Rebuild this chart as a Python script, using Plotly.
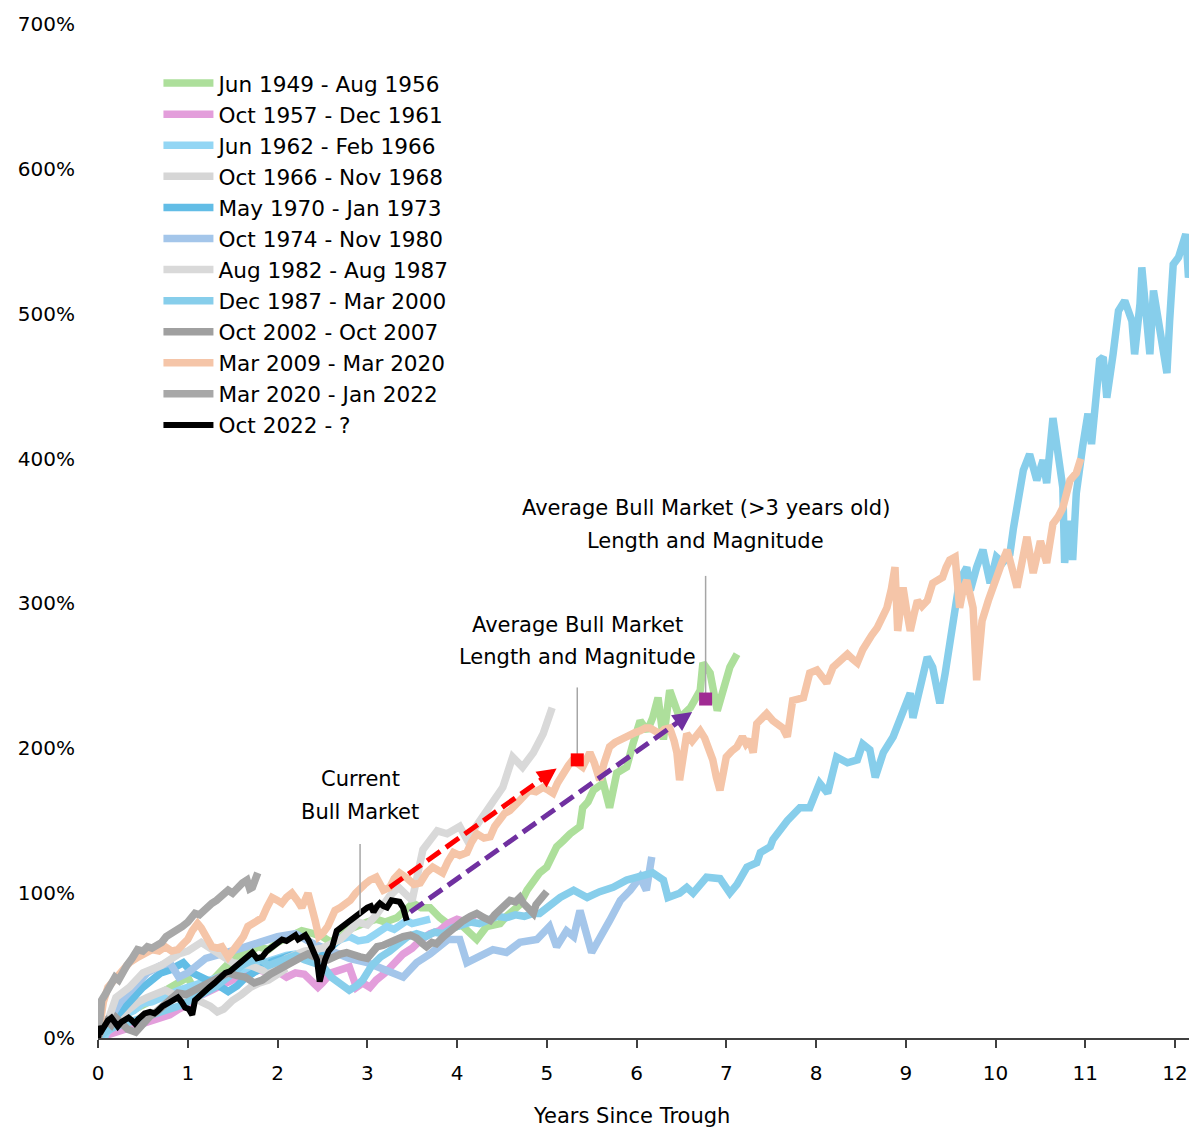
import plotly.graph_objects as go

# ---------------- data (years since trough, % gain) ----------------
names = ["Jun 1949 - Aug 1956", "Oct 1957 - Dec 1961", "Jun 1962 - Feb 1966",
         "Oct 1966 - Nov 1968", "May 1970 - Jan 1973", "Oct 1974 - Nov 1980",
         "Aug 1982 - Aug 1987", "Dec 1987 - Mar 2000", "Oct 2002 - Oct 2007",
         "Mar 2009 - Mar 2020", "Mar 2020 - Jan 2022", "Oct 2022 - ?"]

bull_1949 = [[0,0],[0.08,5],[0.15,9],[0.25,14],[0.35,18],[0.5,22],[0.6,26],[0.7,31],[0.8,35],[0.9,38],
             [1.0,42],[1.05,36],[1.1,30],[1.2,35],[1.3,42],[1.4,48],[1.53,56],[1.65,58],[1.78,63],[1.9,61],
             [2.0,66],[2.15,70],[2.27,74],[2.4,72],[2.5,70],[2.6,66],[2.7,72],[2.8,75],[2.9,78],[3.0,80],
             [3.1,82],[3.2,80],[3.33,83],[3.42,88],[3.51,93],[3.6,90],[3.7,90],[3.81,83],[3.96,76],[4.05,78],
             [4.11,74],[4.22,68],[4.33,77],[4.48,79],[4.55,84],[4.62,88],[4.7,92],[4.78,102],[4.85,108],[4.92,114],
             [5.0,118],[5.07,128],[5.11,132],[5.18,136],[5.26,141],[5.37,146],[5.4,159],[5.46,163],[5.52,171],[5.63,176],
             [5.7,159],[5.78,183],[5.89,187],[5.96,203],[6.04,219],[6.12,212],[6.18,221],[6.24,235],[6.3,206],[6.37,240],
             [6.48,221],[6.6,228],[6.71,240],[6.74,259],[6.82,252],[6.9,226],[6.96,238],[7.04,256],[7.12,265]]

bull_1957 = [[0,0],[0.1,2],[0.2,3],[0.3,5],[0.4,7],[0.5,10],[0.6,11],[0.7,13],[0.8,16],[0.9,20],[1.0,23],
             [1.1,28],[1.2,31],[1.3,35],[1.4,37],[1.5,40],[1.6,43],[1.7,45],[1.8,47],[1.9,45],[2.0,46],[2.1,42],
             [2.2,45],[2.3,44],[2.4,38],[2.45,35],[2.5,38],[2.6,45],[2.7,47],[2.8,49],[2.88,35],[2.95,38],[3.03,35],
             [3.1,40],[3.2,45],[3.3,52],[3.4,58],[3.5,62],[3.6,68],[3.7,72],[3.8,74],[3.9,79],[4.0,82],[4.1,80],[4.2,85]]

bull_1962 = [[0,0],[0.05,-2],[0.1,4],[0.2,10],[0.3,16],[0.4,19],[0.5,24],[0.6,25],[0.7,28],[0.8,30],[0.9,33],
             [1.0,35],[1.1,37],[1.2,40],[1.3,42],[1.4,44],[1.5,46],[1.6,47],[1.7,50],[1.8,52],[1.9,54],[2.0,55],
             [2.1,57],[2.2,58],[2.3,56],[2.4,60],[2.5,62],[2.6,64],[2.7,68],[2.8,70],[2.9,67],[3.0,68],[3.1,72],
             [3.22,77],[3.3,75],[3.44,81],[3.5,79],[3.6,80],[3.7,82]]

bull_1966 = [[0,0],[0.08,4],[0.15,8],[0.25,14],[0.35,20],[0.45,25],[0.55,28],[0.65,31],[0.75,33],[0.85,30],
             [0.95,28],[1.05,30],[1.15,25],[1.25,22],[1.33,18],[1.4,20],[1.5,26],[1.6,30],[1.7,35],[1.8,38],
             [1.9,40],[2.0,44],[2.1,48]]

bull_1970 = [[0,0],[0.05,3],[0.1,8],[0.2,15],[0.3,22],[0.4,28],[0.5,35],[0.6,40],[0.7,45],[0.8,47],[0.9,50],
             [0.95,52],[1.05,45],[1.15,42],[1.25,40],[1.35,36],[1.45,32],[1.55,36],[1.65,42],[1.75,46],[1.85,50],
             [1.95,53],[2.05,55],[2.15,57],[2.25,56],[2.35,58],[2.45,54],[2.55,60],[2.65,66],[2.72,70]]

bull_1974 = [[0,0],[0.1,10],[0.25,25],[0.4,35],[0.55,45],[0.7,50],[0.8,52],[0.9,42],[1.0,45],[1.2,55],[1.4,58],
             [1.6,62],[1.8,66],[2.0,70],[2.2,72],[2.4,65],[2.6,60],[2.8,55],[3.0,52],[3.22,47],[3.4,42],[3.55,52],
             [3.7,58],[3.9,68],[4.03,68],[4.11,52],[4.25,57],[4.4,61],[4.55,59],[4.7,66],[4.89,68],[5.03,77],
             [5.11,63],[5.22,74],[5.3,70],[5.37,88],[5.5,59],[5.59,68],[5.7,81],[5.82,95],[5.93,102],[6.04,111],
             [6.11,102],[6.17,125]]

bull_1982 = [[0,0],[0.1,10],[0.2,28],[0.35,35],[0.5,45],[0.7,50],[0.9,58],[1.0,60],[1.15,66],[1.3,60],[1.5,52],
             [1.7,50],[1.9,45],[2.1,55],[2.3,60],[2.5,62],[2.7,68],[2.9,80],[3.0,78],[3.1,85],[3.25,98],[3.35,104],
             [3.5,95],[3.62,130],[3.78,143],[3.89,141],[4.03,146],[4.11,137],[4.26,150],[4.4,164],[4.51,173],
             [4.62,194],[4.73,187],[4.85,197],[4.96,210],[5.06,228]]

bull_1987 = [[0,0],[0.1,5],[0.2,8],[0.3,10],[0.45,12],[0.6,15],[0.75,18],[0.9,22],[1.0,25],[1.15,30],[1.3,35],
             [1.45,42],[1.6,50],[1.7,53],[1.8,55],[1.9,50],[2.0,52],[2.1,55],[2.2,57],[2.3,54],[2.4,52],[2.5,50],
             [2.6,42],[2.7,38],[2.8,33],[2.88,36],[2.95,40],[3.05,50],[3.15,56],[3.25,60],[3.35,65],[3.45,70],
             [3.55,72],[3.65,70],[3.75,73],[3.85,72],[3.95,76],[4.05,78],[4.15,80],[4.25,79],[4.35,82],[4.45,84],
             [4.55,83],[4.65,85],[4.75,84],[4.85,86],[4.92,86],[5.0,90],[5.15,97],[5.3,102],[5.45,97],[5.59,101],
             [5.74,104],[5.89,109],[6.04,111],[6.18,114],[6.3,109],[6.35,97],[6.48,100],[6.56,104],[6.63,100],
             [6.78,111],[6.93,110],[7.04,100],[7.12,106],[7.19,114],[7.23,118],[7.34,121],[7.38,128],[7.49,132],
             [7.52,137],[7.68,150],[7.82,159],[7.93,159],[8.04,176],[8.13,169],[8.23,194],[8.35,190],[8.46,192],
             [8.52,203],[8.6,199],[8.66,180],[8.75,197],[8.86,208],[8.97,226],[9.05,238],[9.08,221],[9.18,245],
             [9.24,263],[9.3,256],[9.38,231],[9.44,252],[9.49,274],[9.55,297],[9.6,316],[9.68,325],[9.72,309],
             [9.79,325],[9.86,337],[9.94,314],[10.01,332],[10.08,328],[10.16,334],[10.2,352],[10.31,392],
             [10.38,403],[10.46,385],[10.53,399],[10.57,383],[10.64,428],[10.68,412],[10.75,380],[10.77,328],
             [10.83,357],[10.86,330],[10.9,376],[10.97,408],[11.03,431],[11.07,410],[11.13,445],[11.16,468],
             [11.2,470],[11.24,442],[11.31,472],[11.37,502],[11.44,509],[11.52,495],[11.55,472],[11.61,507],
             [11.63,532],[11.69,488],[11.72,472],[11.76,516],[11.83,490],[11.91,459],[11.94,495],[11.98,534],
             [12.04,539],[12.12,555],[12.15,525],[12.19,541],[12.22,507],[12.25,495]]

bull_2002 = [[0,0],[0.05,8],[0.1,12],[0.15,9],[0.2,14],[0.27,10],[0.33,6],[0.42,4],[0.5,10],[0.58,15],[0.65,18],
             [0.71,21],[0.8,26],[0.89,31],[0.98,30],[1.08,33],[1.17,36],[1.27,40],[1.36,42],[1.45,45],[1.55,43],
             [1.64,42],[1.74,38],[1.83,40],[1.92,44],[2.0,47],[2.1,50],[2.19,54],[2.27,56],[2.34,58],[2.45,55],
             [2.56,54],[2.62,56],[2.7,58],[2.77,59],[2.84,57],[2.92,56],[3.0,55],[3.05,58],[3.11,63],[3.18,64],
             [3.25,66],[3.32,67],[3.4,70],[3.48,71],[3.55,69],[3.62,65],[3.66,63],[3.72,66],[3.77,65],[3.85,70],
             [3.92,74],[4.0,78],[4.07,81],[4.15,84],[4.22,86],[4.3,83],[4.37,81],[4.42,85],[4.48,88],[4.55,92],
             [4.59,95],[4.65,94],[4.7,97],[4.74,93],[4.78,90],[4.85,86],[4.88,92],[4.92,95],[4.96,98],[5.0,101]]

bull_2009 = [[0,0],[0.03,15],[0.06,25],[0.11,35],[0.18,40],[0.27,47],[0.35,52],[0.45,56],[0.52,59],[0.6,61],
             [0.68,60],[0.75,63],[0.82,60],[0.89,61],[0.95,65],[1.0,68],[1.05,74],[1.11,79],[1.15,76],[1.19,72],
             [1.23,66],[1.27,63],[1.33,62],[1.38,63],[1.45,56],[1.5,60],[1.56,65],[1.62,70],[1.67,77],[1.75,80],
             [1.83,83],[1.88,90],[1.94,97],[2.0,95],[2.05,93],[2.1,97],[2.16,100],[2.22,95],[2.27,90],[2.34,100],
             [2.38,92],[2.42,81],[2.46,70],[2.5,72],[2.56,77],[2.64,88],[2.7,90],[2.76,92],[2.81,95],[2.87,100],
             [2.92,104],[2.97,106],[3.03,109],[3.1,111],[3.18,102],[3.25,104],[3.3,110],[3.36,114],[3.45,110],
             [3.52,106],[3.59,107],[3.66,114],[3.73,118],[3.78,116],[3.84,114],[3.9,122],[3.96,128],[4.03,126],
             [4.11,128],[4.16,135],[4.22,141],[4.3,138],[4.37,139],[4.42,146],[4.48,152],[4.53,155],[4.59,157],
             [4.65,160],[4.7,164],[4.76,168],[4.81,171],[4.88,170],[4.96,173],[5.02,171],[5.07,169],[5.12,176],
             [5.18,183],[5.24,188],[5.29,192],[5.34,190],[5.4,187],[5.44,192],[5.48,197],[5.53,190],[5.59,178],
             [5.64,190],[5.7,201],[5.76,204],[5.82,206],[5.88,208],[5.93,210],[5.99,211],[6.04,212],[6.1,214],
             [6.15,214],[6.21,212],[6.26,210],[6.31,213],[6.37,214],[6.42,205],[6.45,197],[6.48,178],[6.52,195],
             [6.56,210],[6.62,205],[6.66,208],[6.71,212],[6.76,207],[6.8,200],[6.85,192],[6.89,180],[6.93,171],
             [6.97,184],[7.0,194],[7.06,198],[7.12,201],[7.18,208],[7.22,203],[7.26,206],[7.3,197],[7.34,217],
             [7.38,220],[7.45,224],[7.52,219],[7.58,216],[7.63,214],[7.68,208],[7.74,233],[7.8,234],[7.86,235],
             [7.93,252],[8.01,254],[8.06,250],[8.12,245],[8.19,256],[8.27,261],[8.35,265],[8.4,262],[8.46,259],
             [8.52,268],[8.57,274],[8.62,278],[8.68,283],[8.74,290],[8.79,297],[8.84,310],[8.88,325],[8.91,281],
             [8.94,295],[8.97,311],[9.01,295],[9.05,281],[9.09,292],[9.13,302],[9.18,298],[9.24,302],[9.3,314],
             [9.36,316],[9.41,318],[9.45,325],[9.49,330],[9.55,332],[9.58,304],[9.6,297],[9.64,310],[9.68,316],
             [9.72,305],[9.75,297],[9.79,247],[9.82,270],[9.85,288],[9.92,302],[9.96,310],[10.01,318],[10.07,328],
             [10.13,337],[10.18,325],[10.24,311],[10.3,330],[10.35,346],[10.42,321],[10.5,343],[10.57,328],
             [10.64,355],[10.7,360],[10.75,366],[10.83,385],[10.9,390],[10.95,400]]

bull_2020 = [[0,0],[0.01,12],[0.02,22],[0.04,26],[0.08,30],[0.12,35],[0.16,38],[0.19,42],[0.23,40],[0.27,45],
             [0.32,50],[0.38,55],[0.44,61],[0.5,60],[0.55,63],[0.6,62],[0.66,64],[0.71,66],[0.76,70],[0.82,72],
             [0.88,75],[0.94,77],[1.0,80],[1.04,84],[1.08,86],[1.13,85],[1.18,88],[1.22,91],[1.27,93],[1.32,95],
             [1.38,98],[1.45,102],[1.5,100],[1.55,104],[1.61,107],[1.66,109],[1.69,103],[1.72,104],[1.75,110],
             [1.78,114]]

bull_2022 = [[0,0],[0.01,5],[0.03,8],[0.05,6],[0.08,10],[0.11,12],[0.15,14],[0.18,11],[0.22,8],[0.26,11],
             [0.3,13],[0.34,14],[0.38,12],[0.41,10],[0.45,13],[0.52,17],[0.58,18],[0.63,17],[0.67,19],[0.72,22],
             [0.78,24],[0.83,26],[0.89,28],[0.93,25],[0.97,21],[1.01,20],[1.05,16],[1.08,26],[1.13,29],[1.19,33],
             [1.24,35],[1.3,38],[1.36,42],[1.42,45],[1.47,46],[1.53,49],[1.58,52],[1.64,54],[1.68,57],[1.72,59],
             [1.77,55],[1.83,56],[1.88,60],[1.94,63],[2.0,66],[2.05,68],[2.1,67],[2.16,70],[2.2,71],[2.23,68],
             [2.27,69],[2.31,71],[2.35,67],[2.38,63],[2.42,58],[2.44,54],[2.47,39],[2.5,48],[2.53,54],[2.57,60],
             [2.61,63],[2.66,74],[2.7,76],[2.77,79],[2.83,82],[2.89,85],[2.95,88],[3.0,90],[3.04,91],[3.07,87],
             [3.11,91],[3.14,93],[3.18,91],[3.22,90],[3.27,95],[3.32,94],[3.36,94],[3.4,90],[3.44,81]]

series = [bull_1949, bull_1957, bull_1962, bull_1966, bull_1970, bull_1974,
          bull_1982, bull_1987, bull_2002, bull_2009, bull_2020, bull_2022]
colors = ["#ADDF9B", "#E39EDB", "#93D6F4", "#D6D6D6", "#62BDE6", "#A4C6EA",
          "#D9D9D9", "#87CEEB", "#A0A0A0", "#F5C5A8", "#A8A8A8", "#000000"]

# averages and arrows
avg_all = [5.34, 192]          # average bull market (length, magnitude)
avg_3yr = [6.77, 234]          # average bull market > 3 years old
arrow_red = [[3.25, 104], [5.11, 186]]
arrow_purple = [[3.48, 87], [6.62, 225]]
current_mark = [2.92, 85, 134]     # x, leader bottom, leader top
avg_all_leader_top = 242
avg_3yr_leader_top = 319

x_ticks = list(range(0, 13))
y_ticks = list(range(0, 701, 100))

FONT = "DejaVu Sans"

fig = go.Figure()
for name, data, col in zip(names, series, colors):
    fig.add_trace(go.Scatter(
        x=[p[0] for p in data], y=[p[1] for p in data], mode="lines", name=name,
        line=dict(color=col, width=6 if col == "#000000" else 7.5),
    ))

# dashed arrows
for arr, col in [(arrow_red, "#FF0000"), (arrow_purple, "#7030A0")]:
    fig.add_trace(go.Scatter(x=[arr[0][0], arr[1][0] - 0.08 * (arr[1][0] - arr[0][0]) / 2],
                             y=[arr[0][1], arr[1][1] - 0.08 * (arr[1][1] - arr[0][1]) / 2],
                             mode="lines", showlegend=False, hoverinfo="skip",
                             line=dict(color=col, width=5, dash="16px,7px")))
    fig.add_annotation(x=arr[1][0], y=arr[1][1], xref="x", yref="y",
                       ax=arr[1][0] - 0.05 * (arr[1][0] - arr[0][0]),
                       ay=arr[1][1] - 0.05 * (arr[1][1] - arr[0][1]),
                       axref="x", ayref="y", text="", showarrow=True,
                       arrowhead=2, arrowsize=0.85, arrowwidth=4.5, arrowcolor=col)

# leader lines
for lx, y0, y1 in [(current_mark[0], current_mark[1], current_mark[2]),
                   (avg_all[0], avg_all[1], avg_all_leader_top),
                   (avg_3yr[0], avg_3yr[1], avg_3yr_leader_top)]:
    fig.add_trace(go.Scatter(x=[lx, lx], y=[y0, y1], mode="lines", showlegend=False,
                             hoverinfo="skip", line=dict(color="#A6A6A6", width=1.5)))

# markers
fig.add_trace(go.Scatter(x=[avg_all[0]], y=[avg_all[1]], mode="markers", showlegend=False,
                         marker=dict(symbol="square", size=13, color="#FF0000")))
fig.add_trace(go.Scatter(x=[avg_3yr[0]], y=[avg_3yr[1]], mode="markers", showlegend=False,
                         marker=dict(symbol="square", size=13, color="#A02B93")))

labels = [("Current", 2.92, 178.6), ("Bull Market", 2.92, 156.0),
          ("Average Bull Market", 5.337, 284.8), ("Length and Magnitude", 5.337, 262.8),
          ("Average Bull Market (>3 years old)", 6.774, 366.2), ("Length and Magnitude", 6.774, 343.4)]
for t, x, y in labels:
    fig.add_annotation(x=x, y=y, xref="x", yref="y", text=t, showarrow=False,
                       font=dict(family=FONT, size=21, color="#000000"),
                       xanchor="center", yanchor="middle")

fig.add_annotation(x=(631 - 98) / 1099, y=(1038 - 1116) / 1014, xref="paper", yref="paper",
                   text="Years Since Trough", showarrow=False,
                   font=dict(family=FONT, size=21, color="#000000"),
                   xanchor="center", yanchor="middle")

fig.update_layout(
    width=1189, height=1121,
    margin=dict(l=90, r=0, t=16, b=91),
    paper_bgcolor="white", plot_bgcolor="white",
    font=dict(family=FONT, size=20, color="#000000"),
    showlegend=True,
    legend=dict(x=0.055, y=0.962, xanchor="left", yanchor="top",
                bgcolor="rgba(0,0,0,0)", font=dict(family=FONT, size=21.6, color="#000000"),
                itemwidth=50, tracegroupgap=0),
    xaxis=dict(range=[0, 12.245], tickvals=x_ticks, ticktext=[str(v) for v in x_ticks],
               showgrid=False, zeroline=False, showline=True, linecolor="#404040", linewidth=1.5,
               ticks="outside", ticklen=8, tickcolor="#404040", tickwidth=1.5,
               ticklabelstandoff=8, tickfont=dict(family=FONT, size=20, color="#000000")),
    yaxis=dict(range=[0, 700], tickvals=y_ticks, ticktext=[f"{v}%" for v in y_ticks],
               showgrid=False, zeroline=False, showline=False, ticks="",
               ticklabelstandoff=22, tickfont=dict(family=FONT, size=20, color="#000000")),
)

fig.write_html("out.html")
